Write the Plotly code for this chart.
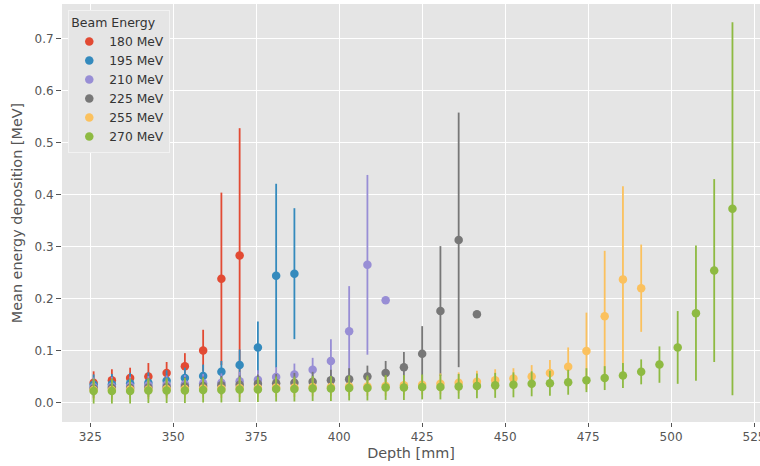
import plotly.graph_objects as go

depth = [326.0, 331.5, 337.0, 342.5, 348.0, 353.5, 359.0, 364.5, 370.0, 375.5,
         381.0, 386.5, 392.0, 397.5, 403.0, 408.5, 414.0, 419.5, 425.0, 430.5,
         436.0, 441.5, 447.0, 452.5, 458.0, 463.5, 469.0, 474.5, 480.0, 485.5,
         491.0, 496.5, 502.0, 507.5, 513.0, 518.5]

labels = ["180 MeV", "195 MeV", "210 MeV", "225 MeV", "255 MeV", "270 MeV"]
colors = ["#E24A33", "#348ABD", "#988ED5", "#777777", "#FBC15E", "#8EBA42"]

mean_180 = [0.038, 0.043, 0.047, 0.050, 0.057, 0.070, 0.100, 0.238, 0.283]
err_180 = [0.022, 0.021, 0.020, 0.026, 0.021, 0.025, 0.040, 0.166, 0.245]

mean_195 = [0.034, 0.035, 0.037, 0.038, 0.042, 0.047, 0.051, 0.059, 0.072, 0.106, 0.244, 0.248]
err_195 = [0.020, 0.020, 0.020, 0.020, 0.020, 0.020, 0.022, 0.021, 0.030, 0.050, 0.177, 0.126]

mean_210 = [0.030, 0.031, 0.032, 0.033, 0.034, 0.035, 0.037, 0.038, 0.041, 0.044, 0.049,
            0.054, 0.063, 0.080, 0.137, 0.265, 0.197]
err_210 = [0.018, 0.018, 0.018, 0.018, 0.018, 0.018, 0.018, 0.018, 0.018, 0.018, 0.019,
           0.021, 0.023, 0.042, 0.087, 0.173, 0.0]

mean_225 = [0.027, 0.028, 0.028, 0.029, 0.030, 0.031, 0.032, 0.033, 0.034, 0.036, 0.037,
            0.038, 0.040, 0.043, 0.045, 0.050, 0.057, 0.068, 0.094, 0.176, 0.313, 0.170]
err_225 = [0.018, 0.018, 0.018, 0.018, 0.018, 0.018, 0.018, 0.018, 0.018, 0.018, 0.018,
           0.019, 0.019, 0.020, 0.021, 0.021, 0.023, 0.029, 0.053, 0.125, 0.245, 0.0]

mean_255 = [0.024, 0.024, 0.025, 0.025, 0.026, 0.026, 0.027, 0.027, 0.028, 0.028, 0.029,
            0.029, 0.030, 0.030, 0.031, 0.031, 0.032, 0.033, 0.034, 0.036, 0.038, 0.040,
            0.043, 0.046, 0.050, 0.057, 0.069, 0.099, 0.166, 0.237, 0.220]
err_255 = [0.018, 0.018, 0.018, 0.018, 0.018, 0.018, 0.018, 0.018, 0.018, 0.018, 0.018,
           0.018, 0.018, 0.018, 0.018, 0.018, 0.019, 0.019, 0.019, 0.020, 0.020, 0.021,
           0.021, 0.020, 0.022, 0.025, 0.037, 0.074, 0.126, 0.179, 0.084]

mean_270 = [0.022, 0.022, 0.022, 0.023, 0.023, 0.023, 0.024, 0.024, 0.025, 0.025, 0.026,
            0.026, 0.027, 0.027, 0.028, 0.028, 0.029, 0.029, 0.030, 0.030, 0.031, 0.032,
            0.033, 0.034, 0.036, 0.037, 0.039, 0.043, 0.047, 0.052, 0.059, 0.073, 0.106,
            0.172, 0.254, 0.373]
err_270 = [0.024, 0.024, 0.024, 0.024, 0.024, 0.024, 0.024, 0.024, 0.024, 0.024, 0.024,
           0.024, 0.024, 0.024, 0.024, 0.024, 0.024, 0.024, 0.024, 0.024, 0.024, 0.024,
           0.024, 0.024, 0.024, 0.024, 0.024, 0.023, 0.023, 0.024, 0.024, 0.035, 0.070,
           0.130, 0.176, 0.359]

means = [mean_180, mean_195, mean_210, mean_225, mean_255, mean_270]
errs = [err_180, err_195, err_210, err_225, err_255, err_270]

fig = go.Figure()
for lab, col, m, e in zip(labels, colors, means, errs):
    fig.add_trace(go.Scatter(
        x=depth[:len(m)], y=m, mode="markers", name=lab,
        marker=dict(color=col, size=8.5, line=dict(width=0)),
        error_y=dict(type="data", array=e, visible=True, color=col,
                     thickness=1.8, width=0),
    ))

font_family = "DejaVu Sans"
fig.update_layout(
    width=760, height=466,
    margin=dict(l=62, r=0, t=4, b=44, autoexpand=False),
    paper_bgcolor="white",
    plot_bgcolor="#E5E5E5",
    font=dict(family=font_family, color="#555555", size=12),
    showlegend=True,
    legend=dict(
        title=dict(text="Beam Energy", font=dict(size=12.5, color="#333333")),
        font=dict(size=12.3, color="#333333"),
        x=0.009, y=0.986, xanchor="left", yanchor="top",
        bgcolor="#E5E5E5", bordercolor="#F2F2F2", borderwidth=1,
        itemwidth=30,
    ),
    xaxis=dict(
        range=[316.47, 526.8],
        automargin=False,
        tickvals=[325, 350, 375, 400, 425, 450, 475, 500, 525],
        ticks="outside", ticklen=4, tickcolor="#555555", tickwidth=1,
        ticklabeloverflow="allow",
        showgrid=True, gridcolor="white", gridwidth=1,
        zeroline=False, showline=False,
        title=dict(text="Depth [mm]", font=dict(size=14.4, color="#555555"), standoff=4),
        tickfont=dict(size=12, color="#555555"),
    ),
    yaxis=dict(
        range=[-0.0375, 0.767],
        automargin=False,
        tickvals=[0.0, 0.1, 0.2, 0.3, 0.4, 0.5, 0.6, 0.7],
        ticktext=["0.0", "0.1", "0.2", "0.3", "0.4", "0.5", "0.6", "0.7"],
        ticks="outside", ticklen=5, tickcolor="#555555", tickwidth=1,
        showgrid=True, gridcolor="white", gridwidth=1,
        zeroline=False, showline=False,
        title=dict(text="Mean energy deposition [MeV]", font=dict(size=14.4, color="#555555"), standoff=8),
        tickfont=dict(size=12, color="#555555"),
    ),
)

fig.write_html("out.html")
